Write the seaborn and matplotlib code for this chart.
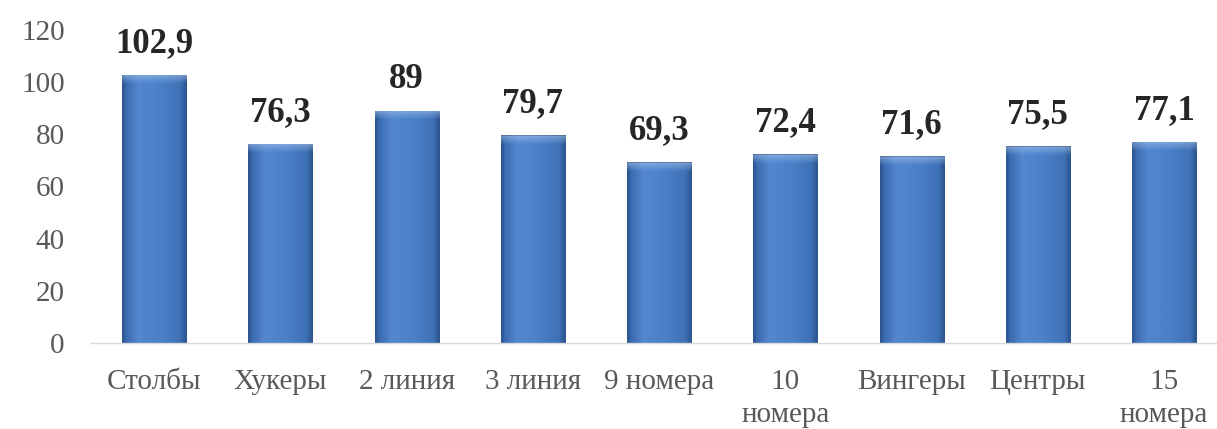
import numpy as np
import pandas as pd
import seaborn as sns
import matplotlib.pyplot as plt
from matplotlib.colors import to_rgb

categories = ["Столбы", "Хукеры", "2 линия", "3 линия", "9 номера",
              "10\nномера", "Вингеры", "Центры", "15\nномера"]
values = [102.9, 76.3, 89, 79.7, 69.3, 72.4, 71.6, 75.5, 77.1]
value_labels = ["102,9", "76,3", "89", "79,7", "69,3", "72,4", "71,6", "75,5", "77,1"]
y_ticks = [0, 20, 40, 60, 80, 100, 120]

sns.set_theme(style="white")
serif = ["Liberation Serif", "DejaVu Serif"]
plt.rcParams["font.family"] = serif

W, H = 1217, 429
fig = plt.figure(figsize=(W / 100, H / 100), dpi=100)
ax = fig.add_axes([91 / W, 1 - 343 / H, 1126 / W, 313 / H])

df = pd.DataFrame({"cat": categories, "val": values})
sns.barplot(data=df, x="cat", y="val", color="#4a7ec7", saturation=1,
            width=0.507, ax=ax)
ax.set_ylim(0, 120)
ax.set_xlim(-0.5, 8.42)

# horizontal shading across each bar, with a light bevel along the top
stops = [(0.0, "#2c548e"), (0.06, "#3b6bb0"), (0.25, "#5387cf"),
         (0.6, "#4b80c8"), (0.9, "#3f71b6"), (1.0, "#2c558f")]
xs = np.linspace(0, 1, 64)
sp = np.array([s[0] for s in stops])
cols = np.array([to_rgb(s[1]) for s in stops])
row = np.stack([np.interp(xs, sp, cols[:, k]) for k in range(3)], axis=1)
px_per_unit = 313 / 120
for patch in list(ax.patches):
    x0 = patch.get_x()
    w = patch.get_width()
    h = patch.get_height()
    n = max(int(round(h * px_per_unit)), 2)
    img = np.repeat(row[None, :, :], n, axis=0)
    bevel = 9
    for i in range(min(bevel, n)):
        a = (1 - i / bevel) * 0.55
        img[i] = img[i] * (1 - a) + np.array(to_rgb("#a9c8ef")) * a
    img[0] = img[0] * 0.75
    patch.set_facecolor("none")
    patch.set_edgecolor("none")
    im = ax.imshow(img, extent=(x0, x0 + w, 0, h), aspect="auto",
                   origin="upper", zorder=2, interpolation="bilinear")
    im.set_clip_path(patch)

for i, (v, lab) in enumerate(zip(values, value_labels)):
    ax.annotate(lab, xy=(i, v), xytext=(0, 22.5), textcoords="offset points",
                ha="center", va="center", fontsize=25, fontweight="bold",
                color="#262626", family=serif)

ax.set_yticks(y_ticks)
ax.set_yticklabels([str(t) for t in y_ticks])
ax.tick_params(axis="y", length=0, pad=19, labelsize=21, labelcolor="#595959")
ax.tick_params(axis="x", length=0, pad=19, labelsize=21, labelcolor="#595959")
for lbl in ax.get_xticklabels() + ax.get_yticklabels():
    lbl.set_family(serif)
for lbl in ax.get_xticklabels():
    lbl.set_linespacing(1.35)
ax.set_xlabel("")
ax.set_ylabel("")
for side in ["top", "right", "left"]:
    ax.spines[side].set_visible(False)
ax.spines["bottom"].set_color("#d9d9d9")
ax.spines["bottom"].set_linewidth(1)
ax.set_facecolor("white")
ax.grid(False)

fig.savefig("out.png", dpi=100, facecolor="white")
